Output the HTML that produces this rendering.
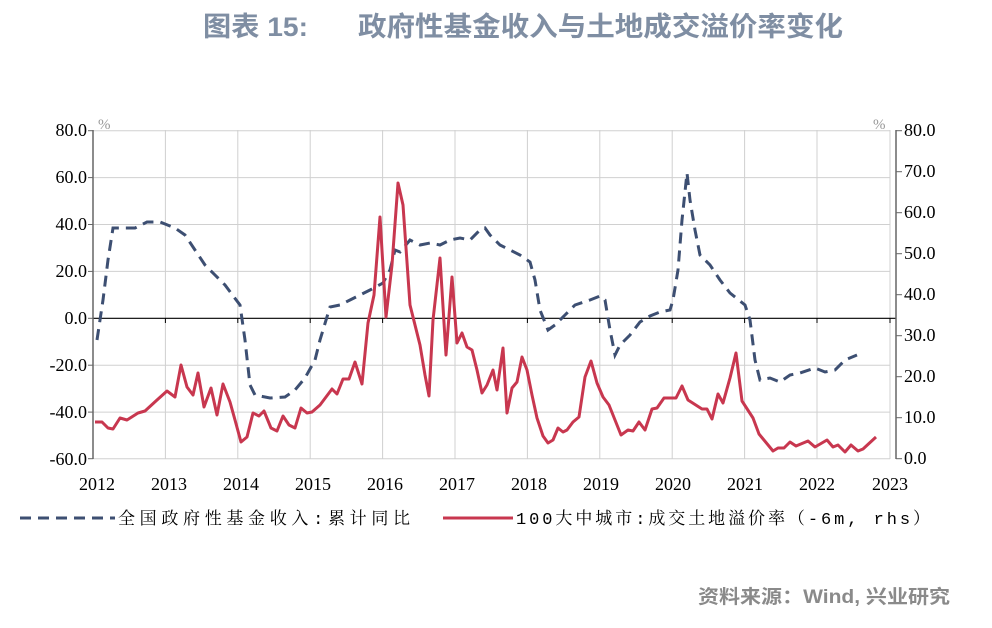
<!DOCTYPE html>
<html><head><meta charset="utf-8"><style>
body{margin:0;background:#fff;width:992px;height:623px;overflow:hidden}
</style></head><body>
<svg width="992" height="623" xmlns="http://www.w3.org/2000/svg">
<text x="203" y="36" font-family="Liberation Sans, Noto Sans CJK SC, sans-serif" font-weight="bold" font-size="27" fill="#7f8ea3" textLength="105" lengthAdjust="spacingAndGlyphs">图表 15:</text>
<text x="358" y="36" font-family="Liberation Sans, Noto Sans CJK SC, sans-serif" font-weight="bold" font-size="27" fill="#7f8ea3" textLength="485" lengthAdjust="spacingAndGlyphs">政府性基金收入与土地成交溢价率变化</text>
<g stroke="#d0d0d0" stroke-width="1">
<line x1="93" y1="130.7" x2="890" y2="130.7"/><line x1="93" y1="177.6" x2="890" y2="177.6"/><line x1="93" y1="224.5" x2="890" y2="224.5"/><line x1="93" y1="271.4" x2="890" y2="271.4"/><line x1="93" y1="365.2" x2="890" y2="365.2"/><line x1="93" y1="412.1" x2="890" y2="412.1"/><line x1="93" y1="458.7" x2="890" y2="458.7"/>
<line x1="165.4" y1="130" x2="165.4" y2="459"/><line x1="237.8" y1="130" x2="237.8" y2="459"/><line x1="310.2" y1="130" x2="310.2" y2="459"/><line x1="382.6" y1="130" x2="382.6" y2="459"/><line x1="455" y1="130" x2="455" y2="459"/><line x1="527.4" y1="130" x2="527.4" y2="459"/><line x1="599.8" y1="130" x2="599.8" y2="459"/><line x1="672.2" y1="130" x2="672.2" y2="459"/><line x1="744.6" y1="130" x2="744.6" y2="459"/><line x1="817" y1="130" x2="817" y2="459"/><line x1="890" y1="130" x2="890" y2="459"/>
</g>
<line x1="93" y1="318.3" x2="896" y2="318.3" stroke="#000" stroke-width="1.2"/>
<g stroke="#000" stroke-width="1">
<line x1="165.4" y1="318" x2="165.4" y2="323"/><line x1="237.8" y1="318" x2="237.8" y2="323"/><line x1="310.2" y1="318" x2="310.2" y2="323"/><line x1="382.6" y1="318" x2="382.6" y2="323"/><line x1="455" y1="318" x2="455" y2="323"/><line x1="527.4" y1="318" x2="527.4" y2="323"/><line x1="599.8" y1="318" x2="599.8" y2="323"/><line x1="672.2" y1="318" x2="672.2" y2="323"/><line x1="744.6" y1="318" x2="744.6" y2="323"/><line x1="817" y1="318" x2="817" y2="323"/><line x1="890" y1="318" x2="890" y2="323"/>
</g>
<g stroke="#666" stroke-width="1.5">
<line x1="93" y1="130" x2="93" y2="459"/><line x1="896" y1="130" x2="896" y2="459"/>
</g>
<g stroke="#666" stroke-width="1">
<line x1="88" y1="130.7" x2="93" y2="130.7"/><line x1="88" y1="177.6" x2="93" y2="177.6"/><line x1="88" y1="224.5" x2="93" y2="224.5"/><line x1="88" y1="271.4" x2="93" y2="271.4"/><line x1="88" y1="318.3" x2="93" y2="318.3"/><line x1="88" y1="365.2" x2="93" y2="365.2"/><line x1="88" y1="412.1" x2="93" y2="412.1"/><line x1="88" y1="458.7" x2="93" y2="458.7"/>
<line x1="896" y1="130.7" x2="902" y2="130.7"/><line x1="896" y1="171.7" x2="902" y2="171.7"/><line x1="896" y1="212.7" x2="902" y2="212.7"/><line x1="896" y1="253.7" x2="902" y2="253.7"/><line x1="896" y1="294.7" x2="902" y2="294.7"/><line x1="896" y1="335.7" x2="902" y2="335.7"/><line x1="896" y1="376.7" x2="902" y2="376.7"/><line x1="896" y1="417.7" x2="902" y2="417.7"/><line x1="896" y1="458.7" x2="902" y2="458.7"/>
</g>
<g font-family="Liberation Serif, serif" font-size="18" fill="#000">
<g text-anchor="end">
<text x="87" y="136">80.0</text><text x="87" y="183">60.0</text><text x="87" y="230">40.0</text><text x="87" y="277">20.0</text><text x="87" y="324">0.0</text><text x="87" y="371">-20.0</text><text x="87" y="418">-40.0</text><text x="87" y="465">-60.0</text>
</g>
<text x="904" y="136">80.0</text><text x="904" y="177">70.0</text><text x="904" y="218">60.0</text><text x="904" y="259">50.0</text><text x="904" y="300">40.0</text><text x="904" y="341">30.0</text><text x="904" y="382">20.0</text><text x="904" y="423">10.0</text><text x="904" y="464">0.0</text>
<g text-anchor="middle">
<text x="97" y="490">2012</text><text x="169" y="490">2013</text><text x="241" y="490">2014</text><text x="313" y="490">2015</text><text x="385" y="490">2016</text><text x="457" y="490">2017</text><text x="529" y="490">2018</text><text x="601" y="490">2019</text><text x="673" y="490">2020</text><text x="745" y="490">2021</text><text x="817" y="490">2022</text><text x="890" y="490">2023</text>
</g>
</g>
<text x="98" y="129" font-family="Liberation Serif, serif" font-size="15" fill="#999">%</text>
<text x="873" y="129" font-family="Liberation Serif, serif" font-size="15" fill="#999">%</text>
<polyline fill="none" stroke="#3d4f72" stroke-width="3" stroke-dasharray="11,7" points="97,340 103,300 108,260 113,228 120,228 135,228 147,222 160,222 175,228 185,235 195,250 205,265 215,275 225,285 240,305 245,340 250,385 255,395 270,398 285,397 295,390 305,378 315,360 320,340 330,307 340,305 350,300 360,295 370,290 383,283 390,270 395,250 400,252 410,240 420,245 430,243 440,245 450,240 460,238 470,240 480,230 485,228 490,235 500,245 510,250 520,255 530,262 535,280 540,310 548,330 555,325 565,315 575,305 590,300 600,296 605,300 610,330 615,355 620,345 630,335 640,322 650,316 660,312 670,310 673,300 678,270 682,220 687,173 690,200 695,230 700,255 705,260 710,265 720,280 730,293 745,305 750,320 755,360 760,380 770,378 780,382 790,375 800,373 815,368 825,372 835,370 845,360 857,355"/>
<polyline fill="none" stroke="#c8374f" stroke-width="3" stroke-linejoin="round" points="95,422 102,422 108,428 113,429 120,418 127,420 138,413 145,411 157,400 167,391 175,397 181,365 187,387 193,395 198,373 204,407 211,388 217,415 223,384 230,402 235,420 241,442 247,437 253,413 259,416 264,411 271,428 277,431 283,416 289,425 295,428 301,408 307,413 312,412 320,405 332,389 337,394 343,379 349,379 355,362 362,384 368,323 374,295 380,217 386,317 392,265 398,183 403,205 410,305 415,325 420,345 425,375 429,396 433,320 440,258 446,355 452,277 457,343 462,333 467,347 472,350 477,370 482,393 487,385 493,370 497,390 503,348 507,413 512,388 517,382 522,357 527,370 532,395 537,418 543,436 548,443 553,440 558,428 563,432 567,430 573,422 579,417 585,377 591,361 597,383 603,397 609,405 615,420 621,435 628,430 633,431 639,422 645,430 652,409 657,408 664,398 676,398 682,386 688,400 702,409 707,409 712,419 718,394 723,403 730,378 736,353 742,401 753,418 759,434 773,451 778,448 784,448 790,442 796,446 808,441 815,447 827,440 833,447 838,445 845,452 851,445 858,451 863,449 876,437"/>
<line x1="20" y1="518" x2="115" y2="518" stroke="#3d4f72" stroke-width="3" stroke-dasharray="11,7"/>
<text x="118" y="524" font-family="Liberation Mono, Noto Serif CJK SC, serif" font-size="17" fill="#000" textLength="292" lengthAdjust="spacing">全国政府性基金收入:累计同比</text>
<line x1="443" y1="518" x2="513" y2="518" stroke="#c8374f" stroke-width="3"/>
<text x="516" y="524" font-family="Liberation Mono, Noto Serif CJK SC, serif" font-size="17" fill="#000" textLength="414" lengthAdjust="spacing">100大中城市:成交土地溢价率（-6m, rhs）</text>
<text x="698" y="603" font-family="Liberation Sans, Noto Sans CJK SC, sans-serif" font-weight="bold" font-size="19" fill="#8a8a8a" textLength="252" lengthAdjust="spacingAndGlyphs">资料来源：Wind, 兴业研究</text>
</svg>
</body></html>
